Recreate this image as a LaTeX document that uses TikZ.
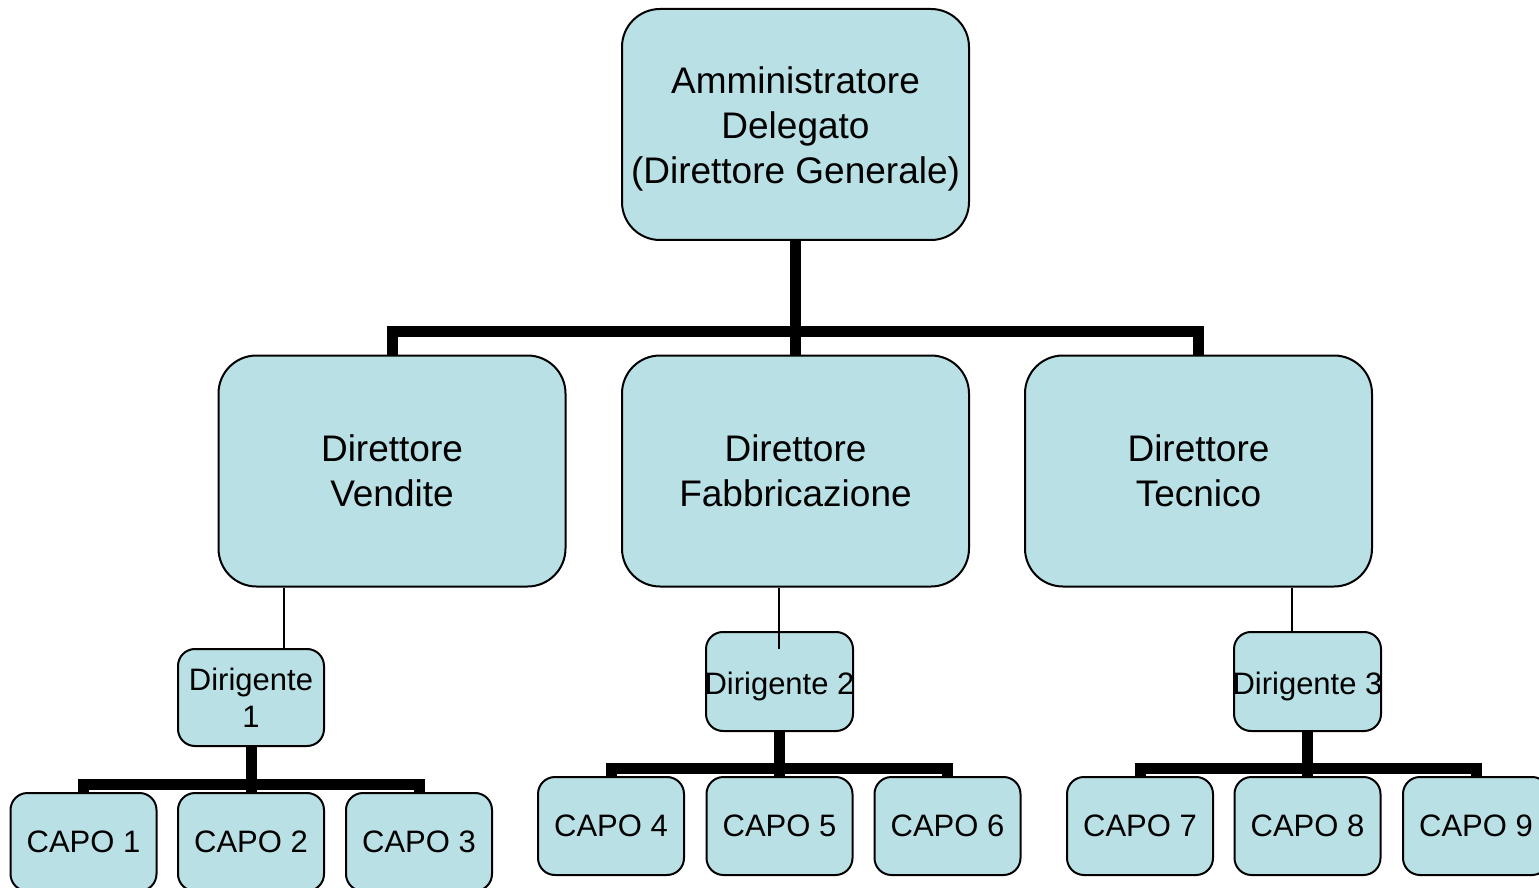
\documentclass[tikz,border=0pt]{standalone}
\usepackage{fontspec}
\setmainfont{Liberation Sans}
\definecolor{boxfill}{RGB}{185,224,228}
\begin{document}
\begin{tikzpicture}[x=0.5pt,y=-0.5pt,
  bigbox/.style={draw, fill=boxfill, line width=1pt, rounded corners=19pt,
    minimum width=173.5pt, minimum height=115.5pt, inner sep=0pt, align=center,
    font=\fontsize{18.5}{22.5}\selectfont},
  smallbox/.style={draw, fill=boxfill, line width=1pt, rounded corners=8.5pt,
    minimum width=73pt, minimum height=49pt, inner sep=0pt, align=center,
    font=\fontsize{15.5}{18.5}\selectfont},
  dtext/.style={inner sep=0pt, yshift=-2.5pt, font=\fontsize{15.5}{18.5}\selectfont},
  toptext/.style={inner sep=0pt, yshift=-2pt, align=center, font=\fontsize{18.5}{22.5}\selectfont},
  thickc/.style={line width=5.5pt},
  thinc/.style={line width=1.2pt}]
\useasboundingbox (0,0) rectangle (1539,888);
% top
\node[bigbox, label={[toptext]center:Amministratore\\Delegato\\(Direttore Generale)}] (a) at (795.5,124.5) {};
% level 2
\node[bigbox] (v) at (392,471) {Direttore\\Vendite};
\node[bigbox] (f) at (795.5,471) {Direttore\\Fabbricazione};
\node[bigbox] (t) at (1198.5,471) {Direttore\\Tecnico};
% dirigenti
\node[smallbox, minimum height=48.5pt] (d1) at (251,697.5) {Dirigente\\1};
\node[smallbox, minimum width=73.5pt, minimum height=49.5pt, label={[dtext]center:Dirigente 2}] (d2) at (779.5,681.5) {};
\node[smallbox, minimum width=73.5pt, minimum height=49.5pt, label={[dtext]center:Dirigente 3}] (d3) at (1307.5,681.5) {};
% capi
\node[smallbox] (c1) at (83.5,842) {CAPO 1};
\node[smallbox] (c2) at (251,842) {CAPO 2};
\node[smallbox] (c3) at (419,842) {CAPO 3};
\node[smallbox] (c4) at (611,826) {CAPO 4};
\node[smallbox] (c5) at (779.5,826) {CAPO 5};
\node[smallbox] (c6) at (947.5,826) {CAPO 6};
\node[smallbox] (c7) at (1140,826) {CAPO 7};
\node[smallbox] (c8) at (1307.5,826) {CAPO 8};
\node[smallbox] (c9) at (1476,826) {CAPO 9};
% bar coordinates
\coordinate (b0) at (795.5,331);
\coordinate (b1) at (251,784.5);
\coordinate (b2) at (779.5,768.5);
\coordinate (b3) at (1307.5,768.5);
% thick connectors
\draw[thickc] (a.south) -- (b0);
\draw[thickc] (v.north) |- (b0) -| (t.north);
\draw[thickc] (b0) -- (f.north);
\draw[thickc] (d1.south) -- (b1);
\draw[thickc] (c1.north) |- (b1) -| (c3.north);
\draw[thickc] (b1) -- (c2.north);
\draw[thickc] (d2.south) -- (b2);
\draw[thickc] (c4.north) |- (b2) -| (c6.north);
\draw[thickc] (b2) -- (c5.north);
\draw[thickc] (d3.south) -- (b3);
\draw[thickc] (c7.north) |- (b3) -| (c9.north);
\draw[thickc] (b3) -- (c8.north);
% thin connectors
\coordinate (k1) at (284,649);
\coordinate (k2) at (779,649);
\coordinate (k3) at (1292,632);
\draw[thinc] (v.south -| k1) -- (k1);
\draw[thinc] (f.south -| k2) -- (k2);
\draw[thinc] (t.south -| k3) -- (k3);
\end{tikzpicture}
\end{document}
